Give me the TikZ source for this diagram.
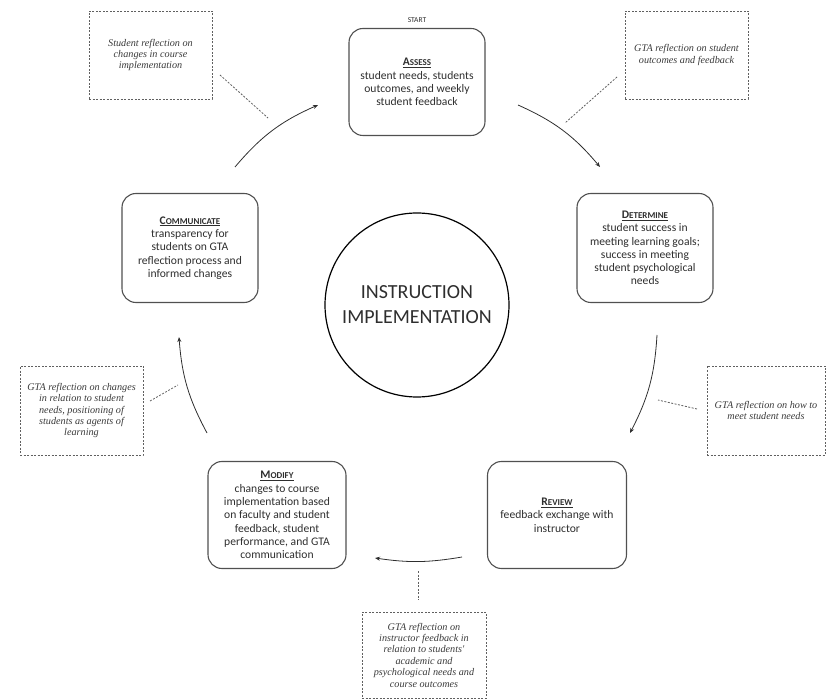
\documentclass[tikz,border=0pt]{standalone}
\usepackage{fontspec}
\setmainfont{Carlito}
\newfontfamily\notefont{Liberation Serif}
\usetikzlibrary{arrows.meta}
\definecolor{boxline}{HTML}{505050}
\definecolor{boxtext}{HTML}{2e2e2e}
\definecolor{notegray}{HTML}{606060}
\definecolor{notetext}{HTML}{3a3a3a}
\newcommand{\stagetitle}[2]{\underline{\textbf{#1{\fontsize{9}{10}\selectfont #2}}}}
\begin{document}
\begin{tikzpicture}[x=1pt,y=-1pt,
  stage/.style={draw=boxline, line width=1.1pt, rounded corners=14pt,
    minimum width=136pt, minimum height=107pt, align=center,
    font=\fontsize{11.6}{13.3}\selectfont, text=boxtext, inner sep=2pt},
  note/.style={draw=notegray, dash pattern=on 2pt off 1.5pt, line width=0.7pt,
    align=center, font=\notefont\itshape\fontsize{10.2}{11.4}\selectfont,
    text=notetext, inner sep=0pt},
  flow/.style={draw=boxtext, line width=0.8pt, -{Stealth[length=5pt,width=4pt]}},
  noteline/.style={draw=notegray, dash pattern=on 2pt off 1.5pt, line width=0.8pt}]
\useasboundingbox (0,0) rectangle (827,700);

% stages
\node[stage] (assess) at (417,82) {\stagetitle{A}{SSESS}\\student needs, students\\outcomes, and weekly\\student feedback};
\node[font=\fontsize{7.5}{8}\selectfont, text=boxtext] (start) at (417,20) {START};
\node[stage, minimum height=109pt] (determine) at (645,248) {\stagetitle{D}{ETERMINE}\\student success in\\meeting learning goals;\\success in meeting\\student psychological\\needs};
\node[stage, minimum height=109pt] (communicate) at (190,248) {\stagetitle{C}{OMMUNICATE}\\transparency for\\students on GTA\\reflection process and\\informed changes};
\node[stage, minimum width=138pt] (modify) at (277,515) {\stagetitle{M}{ODIFY}\\changes to course\\implementation based\\on faculty and student\\feedback, student\\performance, and GTA\\communication};
\node[stage, minimum width=139pt] (review) at (557,515) {\stagetitle{R}{EVIEW}\\feedback exchange with\\instructor};

% centre
\node[draw=black, circle, minimum size=184pt, line width=1.2pt, align=center,
  font=\fontsize{20}{25}\selectfont, text=boxtext] (centre) at (417,305) {INSTRUCTION\\IMPLEMENTATION};

% notes
\node[note, minimum width=123pt, minimum height=88pt] (n1) at (150.5,55) {Student reflection on\\changes in course\\implementation};
\node[note, minimum width=123pt, minimum height=88pt] (n2) at (686.5,55) {GTA reflection on student\\outcomes and feedback};
\node[note, minimum width=123pt, minimum height=89pt] (n3) at (81.5,410.5) {GTA reflection on changes\\in relation to student\\needs, positioning of\\students as agents of\\learning};
\node[note, minimum width=118pt, minimum height=89pt] (n4) at (766,410.5) {GTA reflection on how to\\meet student needs};
\node[note, minimum width=124pt, minimum height=86pt] (n5) at (424,655) {GTA reflection on\\instructor feedback in\\relation to students'\\academic and\\psychological needs and\\course outcomes};

% flow arrows
\coordinate (c1s) at (235,167); \coordinate (c1e) at (318,105);
\coordinate (c2s) at (518,105); \coordinate (c2e) at (600,167);
\coordinate (c3s) at (657,335); \coordinate (c3e) at (630,433);
\coordinate (c4s) at (462,557); \coordinate (c4e) at (375,558);
\coordinate (c5s) at (207,433); \coordinate (c5e) at (179,337);
\draw[flow] (c1s) to[bend left=13] (c1e);
\draw[flow] (c2s) to[bend left=13] (c2e);
\draw[flow] (c3s) to[bend left=12] (c3e);
\draw[flow] (c4s) to[bend left=9] (c4e);
\draw[flow] (c5s) to[bend left=12] (c5e);

% note connectors
\coordinate (d1s) at (220,75); \coordinate (d1e) at (268,118);
\coordinate (d2s) at (617,77); \coordinate (d2e) at (565,123);
\coordinate (d3s) at (150,401); \coordinate (d3e) at (178,385);
\coordinate (d4s) at (697,409); \coordinate (d4e) at (658,400);
\coordinate (d5s) at (418,571); \coordinate (d5e) at (418,600);
\draw[noteline] (d1s) -- (d1e);
\draw[noteline] (d2s) -- (d2e);
\draw[noteline] (d3s) -- (d3e);
\draw[noteline] (d4s) -- (d4e);
\draw[noteline] (d5s) -- (d5e);
\end{tikzpicture}
\end{document}
